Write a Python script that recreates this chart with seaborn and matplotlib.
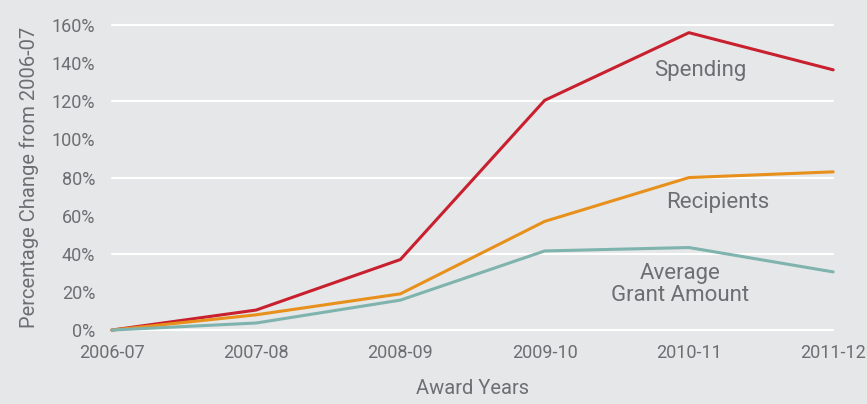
import matplotlib
matplotlib.use("Agg")
import matplotlib.pyplot as plt
import seaborn as sns
import pandas as pd

years = ["2006-07", "2007-08", "2008-09", "2009-10", "2010-11", "2011-12"]
spending = [0, 10.5, 37, 120.5, 156, 136.5]
recipients = [0, 8, 19, 57, 80, 83]
avg_grant = [0, 3.7, 15.7, 41.5, 43.3, 30.5]

series = ["Spending", "Recipients", "Average\nGrant Amount"]
colors = ["#c8202f", "#e8901c", "#7fb3ad"]

df = pd.DataFrame({
    "year": years * 3,
    "x": list(range(len(years))) * 3,
    "value": spending + recipients + avg_grant,
    "series": [s for s in series for _ in years],
})

bg = "#e6e7e8"
txt = "#6d6e71"

sns.set_theme(style="white")
plt.rcParams["font.family"] = ["Roboto", "DejaVu Sans"]

fig = plt.figure(figsize=(8.67, 4.04), dpi=100, facecolor=bg)
ax = fig.add_axes([0.129, 0.183, 0.832, 0.755])
ax.set_facecolor(bg)

for y in [0, 40, 80, 120, 160]:
    ax.axhline(y, color="white", lw=1.5, zorder=1)

sns.lineplot(data=df, x="x", y="value", hue="series", palette=colors,
             hue_order=series, lw=2.2, legend=False, ax=ax, zorder=3)
for line in ax.lines:
    line.set_clip_on(False)

ax.set_xlim(0, len(years) - 1)
ax.set_ylim(0, 160)
ax.set_xticks(range(len(years)))
ax.set_xticklabels(years)
ax.set_yticks(range(0, 161, 20))
ax.set_yticklabels([f"{v}%" for v in range(0, 161, 20)])
ax.tick_params(axis="both", length=0, labelsize=13, labelcolor=txt)
ax.tick_params(axis="x", pad=10)
ax.tick_params(axis="y", pad=12)
for s in ax.spines.values():
    s.set_visible(False)

ax.set_xlabel("Award Years", fontsize=14.5, color=txt, labelpad=12)
ax.set_ylabel("Percentage Change from 2006-07", fontsize=14.5, color=txt, labelpad=9)

ax.text(4.08, 136, "Spending", ha="center", va="center", fontsize=16, color=txt)
ax.text(4.2, 67, "Recipients", ha="center", va="center", fontsize=16, color=txt)
ax.text(3.94, 24, "Average\nGrant Amount", ha="center", va="center",
        fontsize=16, color=txt, linespacing=1.05)

fig.savefig("out.png", dpi=100, facecolor=bg)
